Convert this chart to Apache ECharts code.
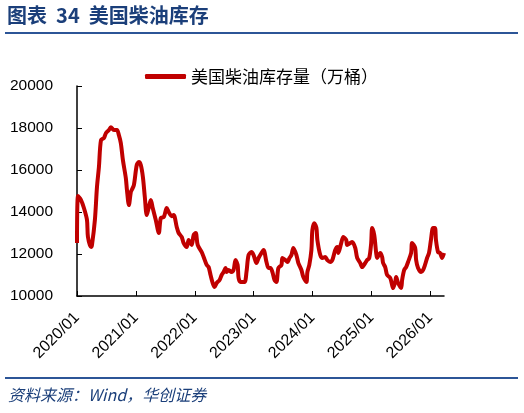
<!DOCTYPE html>
<html>
<head>
<meta charset="utf-8">
<script src="https://cdn.jsdelivr.net/npm/echarts@6/dist/echarts.min.js"></script>
<style>
  html, body { margin: 0; padding: 0; background: #fff; }
  #main { width: 524px; height: 413px; }
</style>
</head>
<body>
<div id="main"></div>
<script>
// 周度日期与库存（万桶），读自原图
var dates = [
  '2020-01-01','2020-01-07','2020-01-26','2020-02-13','2020-03-03','2020-03-09','2020-03-28','2020-04-03',
  '2020-04-21','2020-05-04','2020-05-16','2020-05-29','2020-06-16','2020-06-29','2020-07-17','2020-07-29',
  '2020-08-17','2020-09-05','2020-09-17','2020-09-29','2020-10-12','2020-10-30','2020-11-06','2020-11-18',
  '2020-11-30','2020-12-06','2020-12-19','2021-01-06','2021-01-19','2021-01-31','2021-02-13','2021-02-25',
  '2021-03-09','2021-03-22','2021-04-03','2021-04-15','2021-05-04','2021-05-23','2021-06-04','2021-06-23',
  '2021-07-11','2021-07-23','2021-08-11','2021-08-23','2021-09-11','2021-09-23','2021-10-12','2021-10-24',
  '2021-11-12','2021-11-24','2021-12-13','2021-12-25','2022-01-07','2022-01-19','2022-02-13','2022-02-25',
  '2022-03-16','2022-03-28','2022-04-09','2022-04-22','2022-05-04','2022-05-17','2022-06-04','2022-06-17',
  '2022-06-29','2022-07-11','2022-07-18','2022-07-30','2022-08-17','2022-08-30','2022-09-11','2022-09-24',
  '2022-09-30','2022-10-12','2022-11-06','2022-11-18','2022-12-01','2022-12-19','2023-01-01','2023-01-19',
  '2023-02-01','2023-02-19','2023-03-04','2023-03-22','2023-04-04','2023-04-16','2023-04-28','2023-05-11',
  '2023-05-23','2023-06-04','2023-06-23','2023-06-29','2023-07-18','2023-07-30','2023-08-12','2023-08-24',
  '2023-09-05','2023-09-24','2023-10-06','2023-10-25','2023-11-06','2023-11-25','2023-12-01','2023-12-13',
  '2023-12-26','2024-01-01','2024-01-13','2024-01-26','2024-02-01','2024-02-19','2024-03-03','2024-03-21',
  '2024-04-03','2024-04-21','2024-05-04','2024-05-22','2024-06-04','2024-06-10','2024-06-28','2024-07-11',
  '2024-07-29','2024-08-04','2024-08-23','2024-09-04','2024-09-23','2024-10-05','2024-10-24','2024-11-05',
  '2024-11-24','2024-12-06','2024-12-19','2024-12-31','2025-01-06','2025-01-19','2025-01-31','2025-02-06',
  '2025-02-25','2025-03-09','2025-03-15','2025-03-28','2025-04-09','2025-04-28','2025-05-10','2025-05-16',
  '2025-05-29','2025-06-04','2025-06-16','2025-07-05','2025-07-11','2025-07-24','2025-08-05','2025-08-17',
  '2025-09-05','2025-09-11','2025-09-30','2025-10-06','2025-10-18','2025-11-06','2025-11-18','2025-11-30',
  '2025-12-13','2025-12-25','2026-01-06','2026-01-19','2026-01-31','2026-02-06','2026-02-19','2026-03-03',
  '2026-03-16','2026-03-28'
];
var stocks = [
  12520,14760,14570,14190,13620,12810,12330,12430,
  13620,15190,16140,17430,17520,17760,17900,18040,
  17900,17900,17660,17280,16470,15620,15050,14330,
  14950,15050,15280,16240,16380,16240,15670,14710,
  13860,14240,14570,14190,13620,13000,13710,13760,
  14190,14000,13800,13860,13290,13000,12810,12520,
  12330,12670,12430,12900,13000,12430,12090,11860,
  11480,11380,11000,10620,10430,10620,10760,11000,
  11140,11330,11140,11240,11140,11240,11710,11480,
  10860,10670,10670,11140,11950,12090,11950,11570,
  11810,12050,12190,11620,11330,11330,11140,10760,
  10670,11330,11480,11810,11710,11620,11810,11950,
  12290,11950,11570,11240,10900,10670,11140,11480,
  12190,13140,13470,13240,12670,11950,11810,11860,
  11710,11620,11710,12190,12330,12050,12520,12810,
  12670,12430,12520,12570,12290,11810,11570,11380,
  11570,11710,11810,12520,13240,12900,12050,11810,
  12050,11860,11570,11380,11000,10860,10520,10380,
  10670,10900,10620,10380,10760,11240,11380,11620,
  12050,12520,12290,11710,11330,11140,11240,11480,
  11810,12050,12670,13240,13240,12670,12090,12050,
  11810,12050
];
var yTicks = [10000, 20000, 2000]; // min, max, interval
var titleText = '图表  34  美国柴油库存';
var seriesName = '美国柴油库存量（万桶）';
var sourceText = '资料来源：Wind，华创证券';

var seriesData = dates.map(function (d, i) { return [d, stocks[i]]; });

var chart = echarts.init(document.getElementById('main'));
var blue = '#2C5597';
var option = {
  animation: false,
  backgroundColor: '#fff',
  grid: { left: 77, right: 80, top: 86, bottom: 117, containLabel: false },
  legend: {
    data: [seriesName],
    left: 140,
    top: 63,
    icon: 'roundRect',
    itemWidth: 41,
    itemHeight: 5,
    itemGap: 10,
    textStyle: { fontFamily: 'Noto Sans CJK SC', fontSize: 17, color: '#000', padding: [0, 0, 0, 0] }
  },
  xAxis: {
    type: 'time',
    min: dates[0],
    max: dates[dates.length - 1],
    minInterval: 365 * 24 * 3600 * 1000,
    maxInterval: 366 * 24 * 3600 * 1000,
    splitLine: { show: false },
    axisLine: { lineStyle: { color: '#000', width: 1.5 } },
    axisTick: { show: true, inside: true, length: 5, lineStyle: { color: '#000' } },
    axisLabel: {
      rotate: 45,
      margin: 19,
      fontFamily: 'Liberation Sans',
      fontSize: 16,
      color: '#000',
      formatter: '{yyyy}/{MM}',
      hideOverlap: false
    }
  },
  yAxis: {
    type: 'value',
    min: yTicks[0],
    max: yTicks[1],
    interval: yTicks[2],
    splitLine: { show: false },
    axisLine: { show: true, lineStyle: { color: '#000', width: 1.5 } },
    axisTick: { show: true, inside: true, length: 5, lineStyle: { color: '#000' } },
    axisLabel: {
      margin: 24, fontFamily: 'Liberation Sans', fontSize: 15.5, color: '#000',
      formatter: function (v) { return String(v); }
    }
  },
  series: [{
    name: seriesName,
    type: 'line',
    data: seriesData,
    showSymbol: false,
    smooth: 0.3,
    lineStyle: { color: '#C00000', width: 4 },
    itemStyle: { color: '#C00000' }
  }],
  graphic: [
    { type: 'text', left: 7, top: 5,
      style: { text: titleText, fill: '#1B3F7A', font: 'bold 20px "Noto Sans CJK SC"' } },
    { type: 'rect', shape: { x: 5, y: 32, width: 513, height: 2 }, style: { fill: blue } },
    { type: 'rect', shape: { x: 5, y: 377, width: 513, height: 2 }, style: { fill: blue } },
    { type: 'text', left: 8, top: 387,
      style: { text: sourceText, fill: '#1B3F7A', font: 'italic 16px "Noto Sans CJK SC"' } }
  ]
};
chart.setOption(option);
</script>
</body>
</html>
